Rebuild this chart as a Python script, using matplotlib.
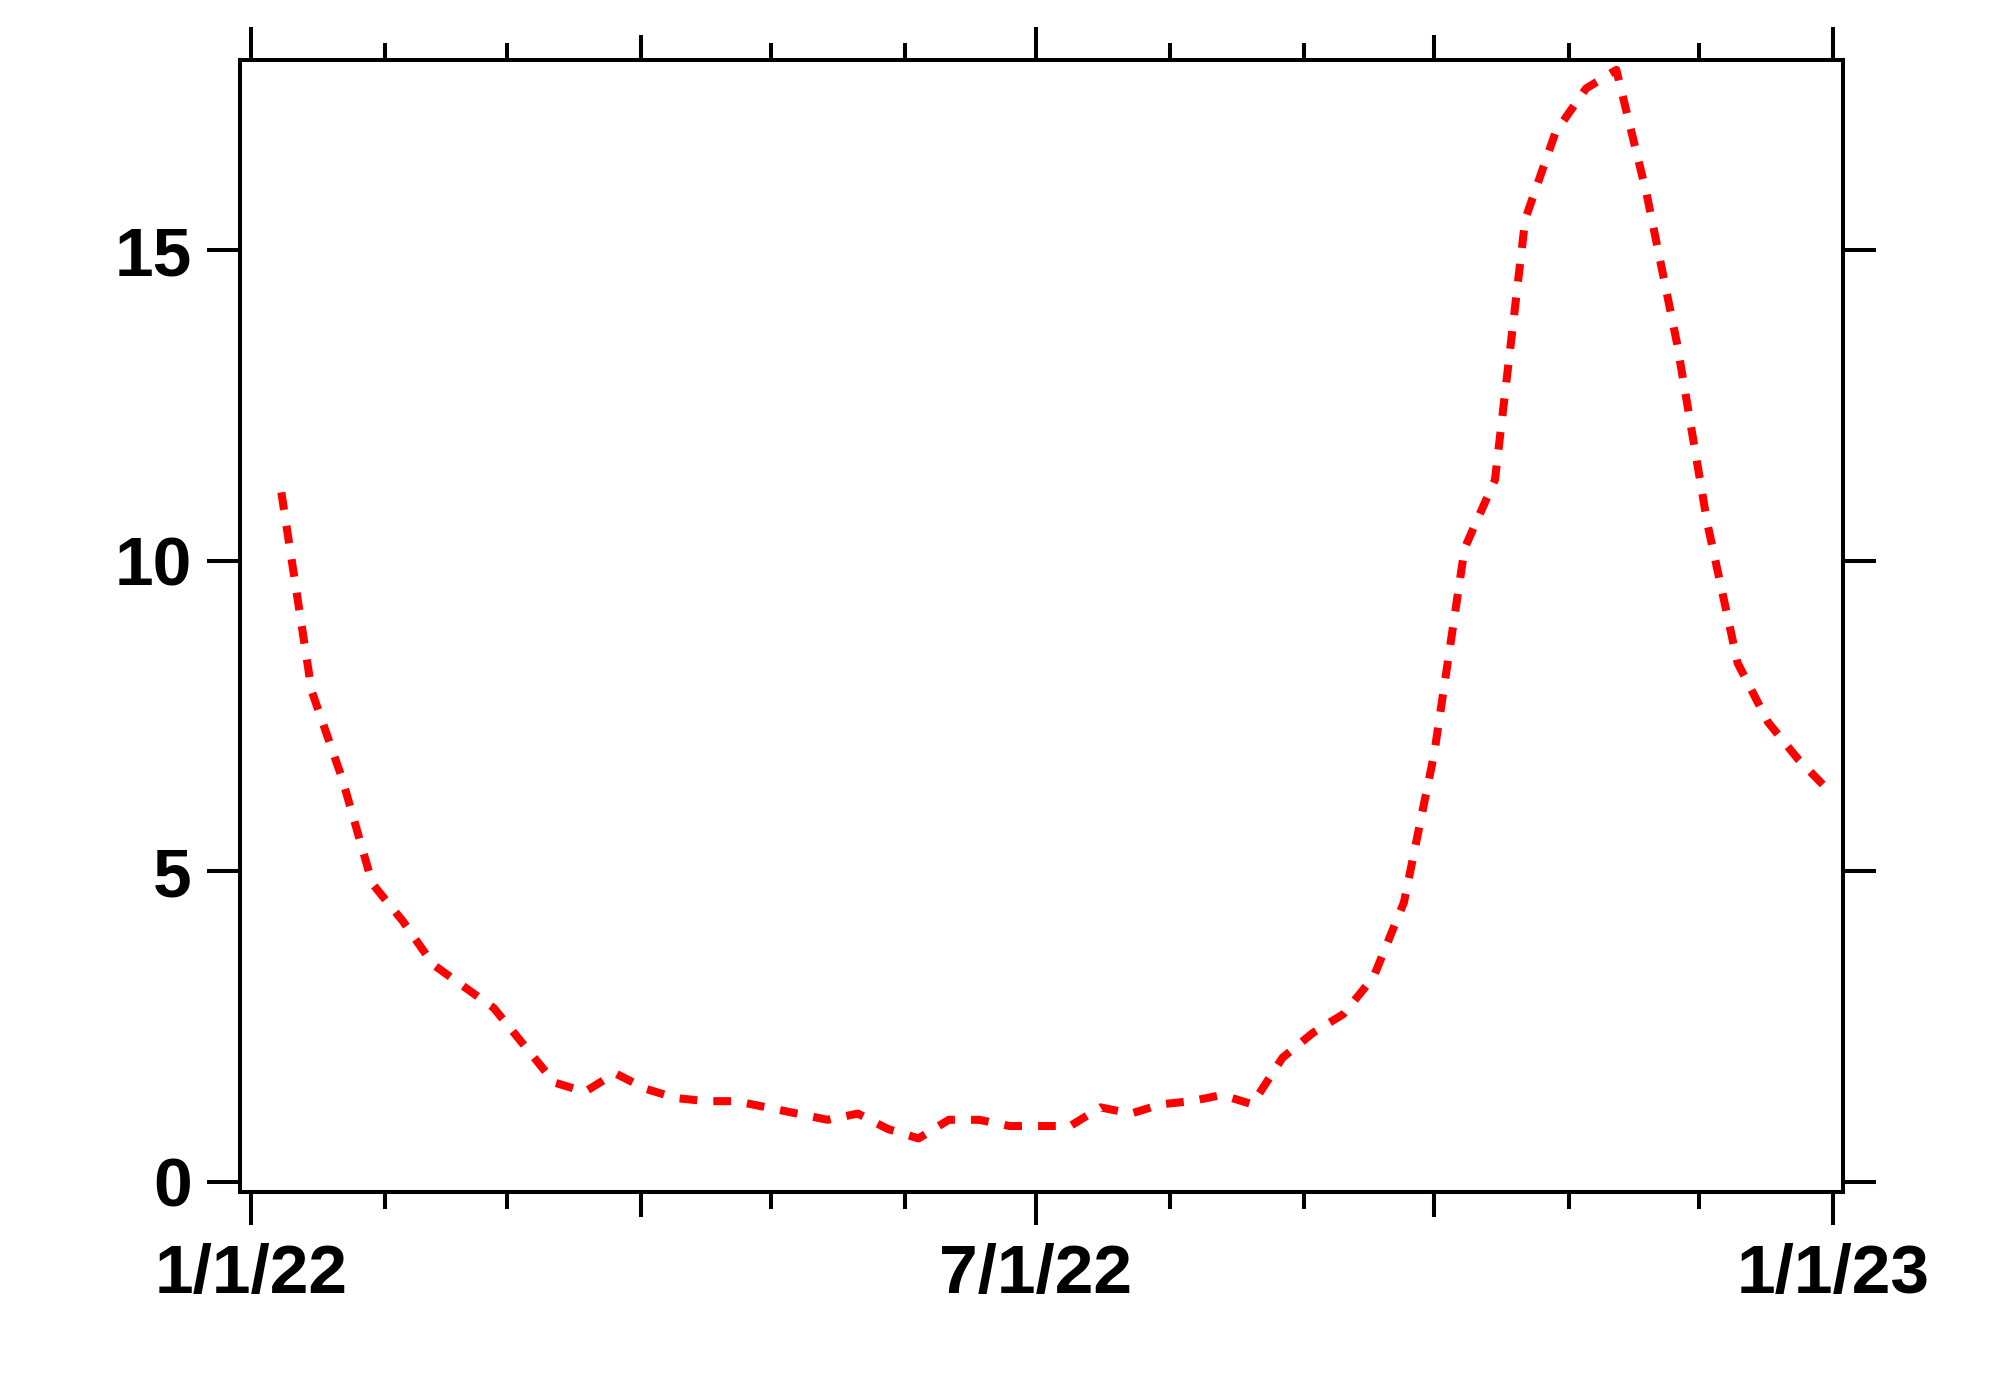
import datetime as dt
import matplotlib
matplotlib.use("Agg")
import matplotlib.pyplot as plt
import matplotlib.dates as mdates

# weekly values (week ending Saturday)
week_start = dt.date(2022, 1, 8)
n_weeks = 52
values = [11.1, 7.9, 6.5, 4.8, 4.2, 3.5, 3.15, 2.8, 2.2, 1.6,
          1.45, 1.75, 1.5, 1.35, 1.3, 1.3, 1.2, 1.1, 1.0, 1.1,
          0.85, 0.7, 1.0, 1.0, 0.9, 0.9, 0.9, 1.2, 1.1, 1.25,
          1.3, 1.4, 1.25, 2.0, 2.4, 2.7, 3.3, 4.5, 6.9, 10.2,
          11.3, 15.5, 16.9, 17.6, 17.9, 15.9, 13.5, 10.6, 8.35, 7.4,
          6.8, 6.3]
dates = [week_start + dt.timedelta(days=7 * i) for i in range(n_weeks)]

major_dates = [dt.date(2022, 1, 1), dt.date(2022, 7, 1), dt.date(2023, 1, 1)]
major_labels = ["1/1/22", "7/1/22", "1/1/23"]
quarter_dates = [dt.date(2022, 4, 1), dt.date(2022, 10, 1)]
y_ticks = [0, 5, 10, 15]

plt.rcParams["font.family"] = ["Liberation Sans", "DejaVu Sans"]
plt.rcParams["font.weight"] = "bold"

fig = plt.figure(figsize=(10, 6.97), dpi=200)
ax = fig.add_axes([0.12, 0.145, 0.8015, 0.812])

ax.plot(dates, values, color="#ff0000", lw=2.9, dashes=(2.2, 2.0))

t0 = mdates.date2num(dt.datetime(2022, 1, 1))
ax.set_xlim(t0 - 2.54, t0 + 367.3)
ax.set_ylim(-0.16, 18.06)

# labelled half-year ticks plus shorter unlabelled quarter ticks
all_major = sorted(major_dates + quarter_dates)
ax.set_xticks([mdates.date2num(d) for d in all_major])
ax.set_xticklabels([major_labels[major_dates.index(d)] if d in major_dates else "" for d in all_major])
ax.xaxis.set_minor_locator(mdates.MonthLocator())

ax.set_yticks(y_ticks)
ax.set_yticklabels([str(v) for v in y_ticks])

ax.tick_params(axis="x", which="major", direction="out", length=11.9, width=1.45,
               top=True, bottom=True, labelsize=25, pad=6.5)
ax.tick_params(axis="x", which="minor", direction="out", length=6.1, width=1.45,
               top=True, bottom=True)
ax.tick_params(axis="y", which="major", direction="out", length=11.9, width=1.45,
               left=True, right=True, labelsize=25, pad=5.5)

for d, tk in zip(all_major, ax.xaxis.get_major_ticks()):
    if d in quarter_dates:
        tk.tick1line.set_markersize(9.0)
        tk.tick2line.set_markersize(9.0)

for lbl in ax.get_xticklabels() + ax.get_yticklabels():
    lbl.set_fontweight("bold")

for sp in ax.spines.values():
    sp.set_linewidth(1.45)

fig.savefig("out.png", dpi=200)
